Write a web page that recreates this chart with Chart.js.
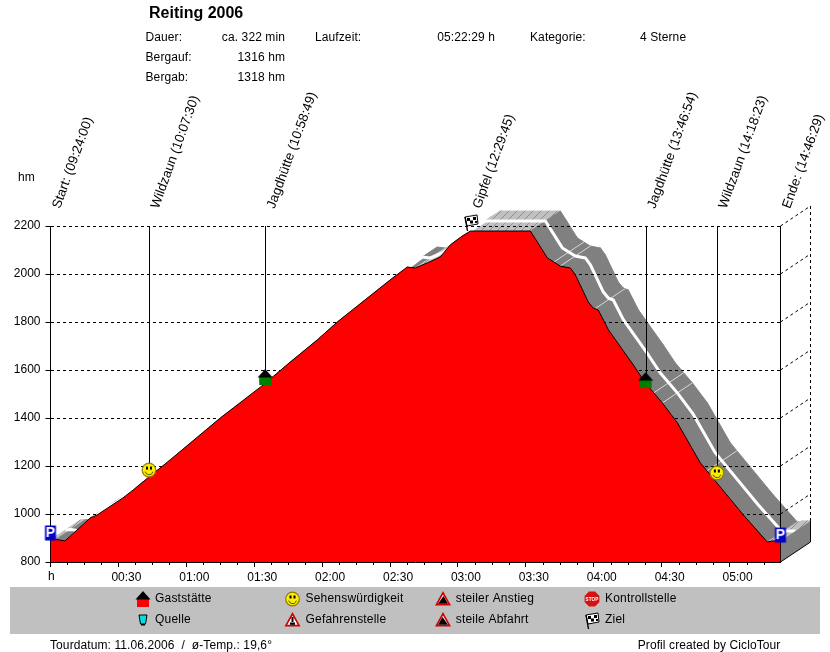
<!DOCTYPE html>
<html><head><meta charset="utf-8">
<style>html,body{margin:0;padding:0;background:#fff}canvas{display:block}</style>
<script src="https://cdn.jsdelivr.net/npm/chart.js@4"></script>
</head><body><canvas id="c" width="830" height="652"></canvas>
<script>
const profileMinutes=[0,2.4,6.4,17.5,20.6,32,36.5,44,52.8,75,94,105.9,117.8,126.7,150,157.6,161.1,166.4,172.2,176.6,181.9,185.5,212,215.1,219.5,225.2,229.7,231.9,237.6,239.8,242,246.5,257.5,262.8,270.3,277,287.1,306.1,316.7,318.9,322.5];
const profileHm=[892,894,888,983,996,1067,1100,1158,1225,1400,1538,1633,1725,1800,1975,2029,2025,2046,2071,2121,2158,2179,2179,2133,2067,2033,2025,1996,1883,1858,1850,1767,1621,1546,1463,1379,1213,996,883,888,888];
const stopNames=['Start: (09:24:00)','Wildzaun (10:07:30)','Jagdhütte (10:58:49)','Gipfel (12:29:45)','Jagdhütte (13:46:54)','Wildzaun (14:18:23)','Ende: (14:46:29)'];
const stopMinutes=[0,43.5,94.82,185.75,262.9,294.38,322.48];
const markerHm=[921,1183,1571,2217,1558,1171,912];
const markerKinds=['park','smile','houseG','flag','houseG','smile','park'];
const seamMinutes=[222.4,225.2,240.5,266.5,270.3,290];
const seamHm=[2050,2033,1855,1505,1463,1180];
const headerRows=[['Dauer:','ca. 322 min'],['Bergauf:','1316 hm'],['Bergab:','1318 hm']];
const legendLabels=[['Gaststätte','Quelle'],['Sehenswürdigkeit','Gefahrenstelle'],['steiler Anstieg','steile Abfahrt'],['Kontrollstelle','Ziel']];
const legendKinds=[['houseR','mug'],['smile','warn'],['up','down'],['stop','flag']];
const FONT='"Liberation Sans",Arial,sans-serif';
const DX=30,DY=-20;

function icon(c,k){
 c.lineWidth=1;
 if(k==='houseG'||k==='houseR'){
  c.fillStyle=k==='houseG'?'#008000':'#f00';c.fillRect(-6,0,12,8);
  c.fillStyle='#000';c.beginPath();c.moveTo(0,-8);c.lineTo(7.5,0.5);c.lineTo(-7.5,0.5);c.closePath();c.fill();
 }else if(k==='smile'){
  c.fillStyle='#ffee00';c.strokeStyle='#8a7a00';c.lineWidth=1.2;c.beginPath();c.arc(0,0,6.8,0,7);c.fill();c.stroke();
  c.fillStyle='#000';c.fillRect(-3,-3.5,2,3);c.fillRect(1,-3.5,2,3);
  c.strokeStyle='#443';c.lineWidth=1;c.beginPath();c.arc(0,0.5,4,0.3,2.85);c.stroke();
 }else if(k==='park'){
  c.fillStyle='#0000c8';c.fillRect(-5.5,-7.5,11,15);
  c.fillStyle='#fff';c.font='bold 14px '+FONT;c.textAlign='center';c.textBaseline='middle';c.fillText('P',0,0.5);
 }else if(k==='flag'){
  c.strokeStyle='#000';c.fillStyle='#fff';c.beginPath();c.moveTo(-6,-5);c.lineTo(6,-7);c.lineTo(7,2);c.lineTo(-4,4);c.closePath();c.fill();c.stroke();
  c.fillStyle='#000';c.fillRect(-4,-4,3,3);c.fillRect(2,-5,3,3);c.fillRect(-1,-1.5,3,3);c.fillRect(4,-1,2,2);
  c.lineWidth=1.4;c.beginPath();c.moveTo(-6,-5);c.lineTo(-3.5,9);c.stroke();
 }else if(k==='mug'){
  c.fillStyle='#00e0e0';c.strokeStyle='#000';c.beginPath();c.moveTo(-4,-5);c.lineTo(4,-5);c.lineTo(2.5,4);c.lineTo(-2.5,4);c.closePath();c.fill();c.stroke();
  c.fillStyle='#000';c.fillRect(-2,4,4,1.5);
 }else if(k==='warn'||k==='up'||k==='down'){
  c.fillStyle='#d00000';c.beginPath();c.moveTo(0,-8);c.lineTo(8,6.5);c.lineTo(-8,6.5);c.closePath();c.fill();
  c.fillStyle='#fff';c.beginPath();c.moveTo(0,-4.5);c.lineTo(5.2,4.8);c.lineTo(-5.2,4.8);c.closePath();c.fill();
  c.fillStyle='#000';
  if(k==='warn'){c.fillRect(-1,-3,2,5);c.fillRect(-2.5,2.5,5,2.3);}
  else{c.beginPath();
   if(k==='up'){c.moveTo(-5,4.8);c.lineTo(0.5,-3);c.lineTo(5,4.8);}
   else{c.moveTo(-5,4.8);c.lineTo(-0.5,-3);c.lineTo(5,4.8);}
   c.closePath();c.fill();}
 }else if(k==='stop'){
  c.fillStyle='#d81010';c.beginPath();
  for(let i=0;i<8;i++){const a=Math.PI/8+i*Math.PI/4;c.lineTo(8*Math.cos(a),8*Math.sin(a));}
  c.closePath();c.fill();
  c.fillStyle='#fff';c.font='bold 6px '+FONT;c.textAlign='center';c.textBaseline='middle';c.fillText('STOP',0,0.5,13);
 }
}
function iconCanvas(k){
 const s=document.createElement('canvas');s.width=24;s.height=24;
 const c=s.getContext('2d');c.translate(12,12);icon(c,k);return s;
}
function hatch(ctx){
 const s=document.createElement('canvas');s.width=8;s.height=8;
 const c=s.getContext('2d');c.fillStyle='#c0c0c0';c.fillRect(0,0,8,8);
 c.strokeStyle='#909090';c.lineWidth=1;c.beginPath();c.moveTo(0,8);c.lineTo(8,0);c.stroke();
 return ctx.createPattern(s,'repeat');
}
const solidDepth={
 id:'depth',
 beforeDraw(ch){
  const c=ch.ctx,x=ch.scales.x,y=ch.scales.y,n=profileMinutes.length;
  const px=i=>x.getPixelForValue(profileMinutes[i]),py=i=>y.getPixelForValue(profileHm[i]);
  c.save();
  const pat=hatch(c);
  for(let i=0;i<n-1;i++){
   const drop=(profileHm[i]-profileHm[i+1])/(profileMinutes[i+1]-profileMinutes[i]);
   c.fillStyle=drop>0.5?'#808080':pat;c.strokeStyle=c.fillStyle;c.lineWidth=1;
   c.beginPath();c.moveTo(px(i),py(i));c.lineTo(px(i+1),py(i+1));
   c.lineTo(px(i+1)+DX,py(i+1)+DY);c.lineTo(px(i)+DX,py(i)+DY);c.closePath();c.fill();c.stroke();
  }
  c.strokeStyle='#d8d8d8';c.lineWidth=1;
  seamMinutes.forEach((t,i)=>{const a=x.getPixelForValue(t),b=y.getPixelForValue(seamHm[i]);
   c.beginPath();c.moveTo(a,b);c.lineTo(a+DX,b+DY);c.stroke();});
  c.strokeStyle='#fff';c.lineWidth=3;c.lineJoin='round';c.beginPath();
  for(let i=0;i<n;i++){c.lineTo(px(i)+DX/2,py(i)+DY/2);}
  c.stroke();
  // end wall
  const r=x.right,b=y.bottom,e=py(n-1);
  c.fillStyle='#808080';c.strokeStyle='#000';c.lineWidth=1;
  c.beginPath();c.moveTo(r,e);c.lineTo(r+DX,e+DY);c.lineTo(r+DX,b+DY);c.lineTo(r,b);c.closePath();c.fill();
  c.beginPath();c.moveTo(r,b);c.lineTo(r+DX,b+DY);c.lineTo(r+DX,e+DY);c.stroke();
  // back wall of the box
  c.setLineDash([3,3]);
  c.beginPath();c.moveTo(r+DX,y.top+DY);c.lineTo(r+DX,e+DY);c.stroke();
  y.ticks.forEach(t=>{if(t.value===800)return;const p=y.getPixelForValue(t.value);
   c.beginPath();c.moveTo(r,p);c.lineTo(r+DX,p+DY);c.stroke();});
  c.restore();
 },
 beforeDatasetsDraw(ch){
  const c=ch.ctx,x=ch.scales.x,y=ch.scales.y;
  c.save();c.strokeStyle='#000';c.lineWidth=1;
  stopMinutes.forEach((t,i)=>{
   if(markerKinds[i]==='flag'||i===0)return;
   const last=i===stopMinutes.length-1;
   const p=last?x.right:Math.floor(x.getPixelForValue(t)+0.6)+0.5;
   const end=last?y.bottom:y.getPixelForValue(markerHm[i]);
   c.beginPath();c.moveTo(p,y.top);c.lineTo(p,end);c.stroke();});
  c.restore();
 },
 afterDraw(ch){
  const c=ch.ctx,x=ch.scales.x,y=ch.scales.y;
  c.save();
  // minor time ticks
  c.strokeStyle='#000';c.lineWidth=1;
  for(let t=7.5;t<322;t+=7.5){if(t%30===0)continue;const p=Math.round(x.getPixelForValue(t))+0.5;
   c.beginPath();c.moveTo(p,y.bottom);c.lineTo(p,y.bottom+3);c.stroke();}
  // rotated stop labels
  c.fillStyle='#000';c.font='13.3px '+FONT;c.textAlign='left';c.textBaseline='middle';
  stopNames.forEach((s,i)=>{c.save();c.translate(x.getPixelForValue(stopMinutes[i])+6,208);
   c.rotate(-70*Math.PI/180);c.fillText(s,0,0);c.restore();});
  // header
  c.textBaseline='middle';
  c.font='bold 16px '+FONT;c.fillText('Reiting 2006',149,14);
  c.font='12px '+FONT;c.letterSpacing='0.1px';
  headerRows.forEach((r,i)=>{const yy=38+i*20;c.textAlign='left';c.fillText(r[0],145.5,yy);
   c.textAlign='right';c.fillText(r[1],285,yy);});
  c.textAlign='left';c.fillText('Laufzeit:',315,38);
  c.textAlign='right';c.fillText('05:22:29 h',495,38);
  c.textAlign='left';c.fillText('Kategorie:',530,38);c.fillText('4 Sterne',640,38);
  c.fillText('hm',18,178);
  c.fillText('h',48,577);
  // legend band
  c.fillStyle='#c0c0c0';c.fillRect(10,587,810,47);
  const iconX=[143,292.5,443,592],textX=[155,305.5,455.7,605],rowY=[599,620];
  legendLabels.forEach((col,i)=>col.forEach((s,j)=>{
   c.save();c.translate(iconX[i],rowY[j]);icon(c,legendKinds[i][j]);c.restore();
   c.fillStyle='#000';c.font='12px '+FONT;c.letterSpacing='0.2px';c.textAlign='left';c.textBaseline='middle';c.fillText(s,textX[i],rowY[j]);
  }));
  // footer
  c.letterSpacing='0.1px';
  c.fillText('Tourdatum: 11.06.2006  /  ø-Temp.: 19,6°',50,646);
  c.fillText('Profil created by CicloTour',637.7,646);
  c.restore();
 }
};
new Chart(document.getElementById('c'),{
 type:'scatter',
 data:{datasets:[
  {label:'Stopps',order:0,data:stopMinutes.map((t,i)=>({x:t,y:markerHm[i]})),
   pointStyle:markerKinds.map(iconCanvas),pointRadius:12,pointHoverRadius:12,showLine:false,clip:false},
  {label:'Höhenprofil',order:1,data:profileMinutes.map((t,i)=>({x:t,y:profileHm[i]})),
   showLine:true,tension:0,pointRadius:0,borderColor:'#000',borderWidth:1,backgroundColor:'#ff0000',fill:'origin',clip:false}
 ]},
 plugins:[solidDepth],
 options:{
  responsive:false,animation:false,devicePixelRatio:1,
  layout:{padding:{top:226,right:49.5,bottom:0,left:0}},
  plugins:{legend:{display:false},tooltip:{enabled:false},title:{display:false}},
  scales:{
   x:{type:'linear',min:0,max:322.5,afterFit(s){s.height=90;},
    border:{color:'#000'},
    grid:{drawOnChartArea:false,color:'#000',tickLength:5},
    ticks:{stepSize:30,includeBounds:false,maxRotation:0,autoSkip:false,color:'#000',font:{family:FONT,size:12},padding:3,labelOffset:8,
     callback(v){if(v===0)return '';const h=Math.floor(v/60),m=v%60;return String(h).padStart(2,'0')+':'+String(m).padStart(2,'0');}}},
   y:{min:800,max:2200,afterFit(s){s.width=50.5;},
    border:{color:'#000',dash:[3,3]},
    grid:{color:'#000',tickLength:5,tickColor:'#000',tickBorderDash:[]},
    ticks:{stepSize:200,color:'#000',font:{family:FONT,size:12},padding:5,callback(v){return String(v);}}}
  }
 }
});
</script></body></html>
